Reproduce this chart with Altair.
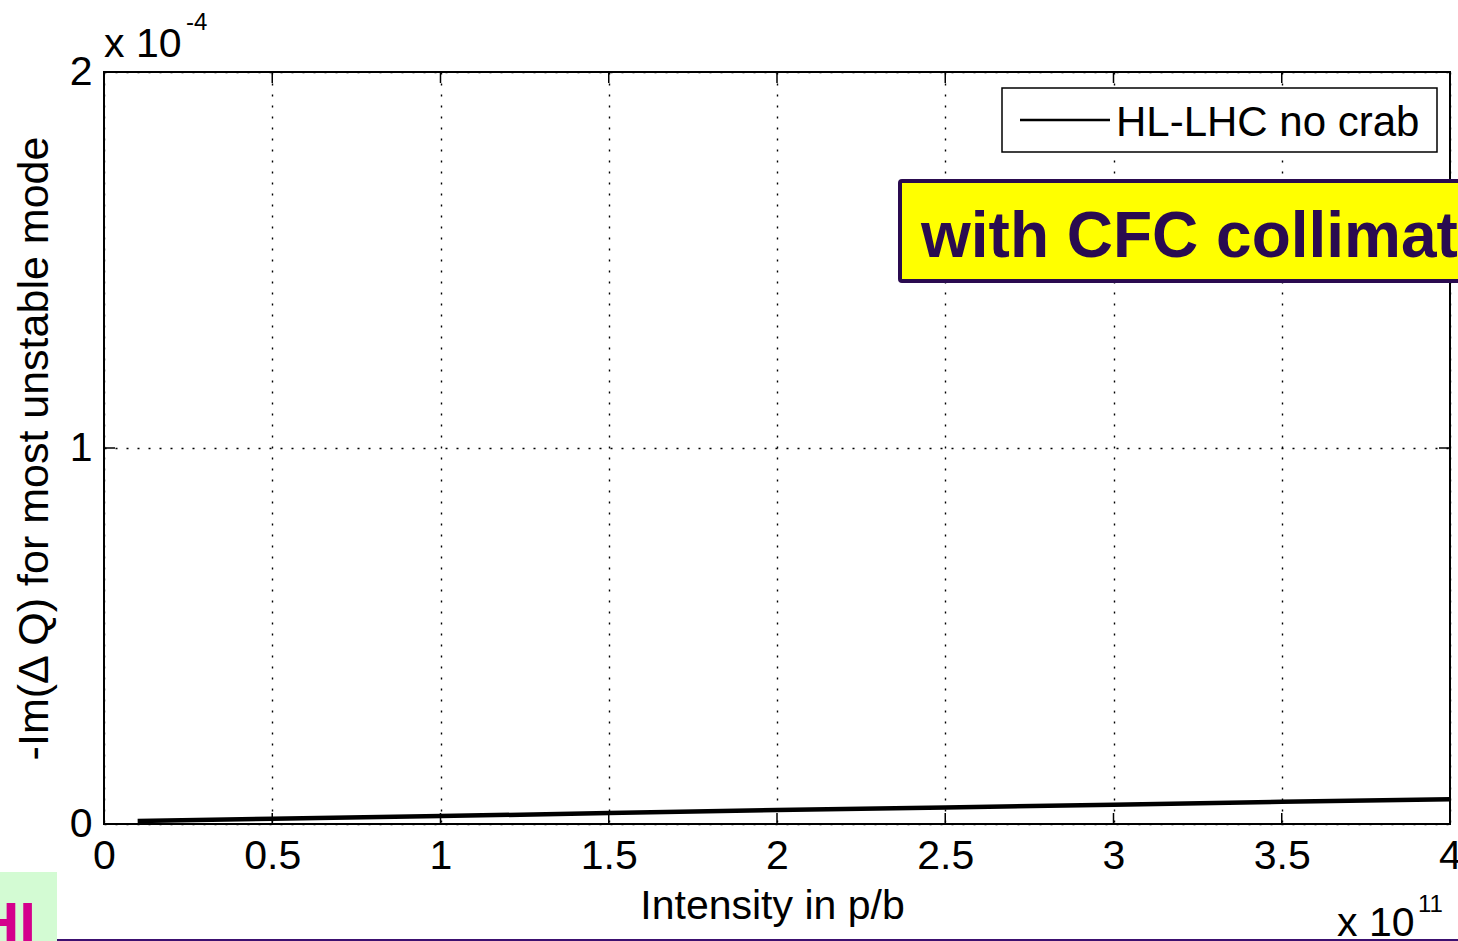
import altair as alt
import pandas as pd

# ---- data (values in units of 1e11 p/b and 1e-4) ----
intensity = [0.1, 0.5, 1.0, 1.5, 2.0, 2.5, 3.0, 3.5, 4.0]
growth = [0.008, 0.014, 0.021, 0.029, 0.037, 0.044, 0.051, 0.059, 0.066]
x_ticks = [0, 0.5, 1, 1.5, 2, 2.5, 3, 3.5, 4]
y_ticks = [0, 1, 2]
series_name = "HL-LHC no crab"
banner_text = "with CFC collimators"

W, H = 1346, 752
FONT = "Liberation Sans"

line_df = pd.DataFrame({"intensity": intensity, "growth": growth})
xt_df = pd.DataFrame({"intensity": x_ticks})
yt_df = pd.DataFrame({"growth": y_ticks})
one = pd.DataFrame({"k": [0]})

xscale = alt.Scale(domain=[0, 4], nice=False, zero=False)
yscale = alt.Scale(domain=[0, 2], nice=False, zero=False)

base_line = alt.Chart(line_df).mark_line(color="black", strokeWidth=4.5).encode(
    x=alt.X("intensity:Q", scale=xscale,
            axis=alt.Axis(values=x_ticks, format="~g", title="Intensity in p/b",
                          titleFontSize=41, titleX=668,
                          labelPadding=12, titlePadding=10)),
    y=alt.Y("growth:Q", scale=yscale,
            axis=alt.Axis(values=y_ticks, format="~g",
                          title="-Im(\u0394 Q) for most unstable mode",
                          titleFontSize=43,
                          labelPadding=12, titlePadding=13)),
)

# inward ticks (MATLAB style)
xt_bottom = alt.Chart(xt_df).mark_rule(color="black", strokeWidth=1.5).encode(
    x=alt.X("intensity:Q", scale=xscale), y=alt.value(H), y2=alt.value(H - 11))
xt_top = alt.Chart(xt_df).mark_rule(color="black", strokeWidth=1.5).encode(
    x=alt.X("intensity:Q", scale=xscale), y=alt.value(0), y2=alt.value(11))
yt_left = alt.Chart(yt_df).mark_rule(color="black", strokeWidth=1.5).encode(
    y=alt.Y("growth:Q", scale=yscale), x=alt.value(0), x2=alt.value(11))
yt_right = alt.Chart(yt_df).mark_rule(color="black", strokeWidth=1.5).encode(
    y=alt.Y("growth:Q", scale=yscale), x=alt.value(W), x2=alt.value(W - 11))

# legend
leg_box = alt.Chart(one).mark_rect(fill="white", stroke="black", strokeWidth=1.5).encode(
    x=alt.value(898), x2=alt.value(1333), y=alt.value(16), y2=alt.value(80))
leg_line = alt.Chart(one).mark_rule(color="black", strokeWidth=2.5).encode(
    x=alt.value(916), x2=alt.value(1006), y=alt.value(48))
leg_text = alt.Chart(one).mark_text(font=FONT, fontSize=42, align="left",
                                    baseline="alphabetic", color="black").encode(
    x=alt.value(1012), y=alt.value(64), text=alt.value(series_name))

# yellow banner
ban_box = alt.Chart(one).mark_rect(fill="#ffff00", stroke="#2a0b50", strokeWidth=4,
                                   cornerRadius=2).encode(
    x=alt.value(796), x2=alt.value(1420), y=alt.value(109), y2=alt.value(209))
ban_text = alt.Chart(one).mark_text(font=FONT, fontSize=64, fontWeight="bold",
                                    align="left", baseline="alphabetic",
                                    color="#2a0b50").encode(
    x=alt.value(817), y=alt.value(185), text=alt.value(banner_text))

# exponent labels
exp_y = alt.Chart(one).mark_text(font=FONT, fontSize=41, align="left",
                                 baseline="alphabetic", color="black").encode(
    x=alt.value(0), y=alt.value(-15), text=alt.value("x 10"))
exp_y_sup = alt.Chart(one).mark_text(font=FONT, fontSize=24, align="left",
                                     baseline="alphabetic", color="black").encode(
    x=alt.value(82), y=alt.value(-42), text=alt.value("-4"))
exp_x = alt.Chart(one).mark_text(font=FONT, fontSize=41, align="left",
                                 baseline="alphabetic", color="black").encode(
    x=alt.value(1233), y=alt.value(864), text=alt.value("x 10"))
exp_x_sup = alt.Chart(one).mark_text(font=FONT, fontSize=24, align="left",
                                     baseline="alphabetic", color="black").encode(
    x=alt.value(1314), y=alt.value(840), text=alt.value("11"))

# slide decorations at the bottom
green_box = alt.Chart(one).mark_rect(fill="#d3fbd3").encode(
    x=alt.value(-104), x2=alt.value(-47), y=alt.value(800), y2=alt.value(870))
hi_text = alt.Chart(one).mark_text(font=FONT, fontSize=60, fontWeight="bold",
                                   align="right", baseline="alphabetic",
                                   color="#d4008c").encode(
    x=alt.value(-68), y=alt.value(872), text=alt.value("HI"))
purple_line = alt.Chart(one).mark_rule(color="#3c1070", strokeWidth=2).encode(
    x=alt.value(-47), x2=alt.value(1360), y=alt.value(868))

chart = alt.layer(
    base_line, xt_bottom, xt_top, yt_left, yt_right,
    leg_box, leg_line, leg_text,
    ban_box, ban_text,
    exp_y, exp_y_sup, exp_x, exp_x_sup,
    green_box, hi_text, purple_line,
).properties(
    width=W, height=H,
    autosize=alt.AutoSizeParams(type="none"),
    padding={"left": 104, "top": 72, "right": 8, "bottom": 117},
    background="white",
).configure_view(
    stroke="black", strokeWidth=2
).configure_axis(
    domain=False, ticks=False, grid=True, gridColor="black", gridDash=[2, 9],
    gridWidth=1.4, gridOpacity=1,
    labelFont=FONT, labelFontSize=41, labelColor="black",
    titleFont=FONT, titleFontSize=42, titleFontWeight="normal", titleColor="black",
    labelOverlap=False, labelFlush=False,
)

chart.save("out.html", embed_options={"renderer": "svg", "actions": False})
